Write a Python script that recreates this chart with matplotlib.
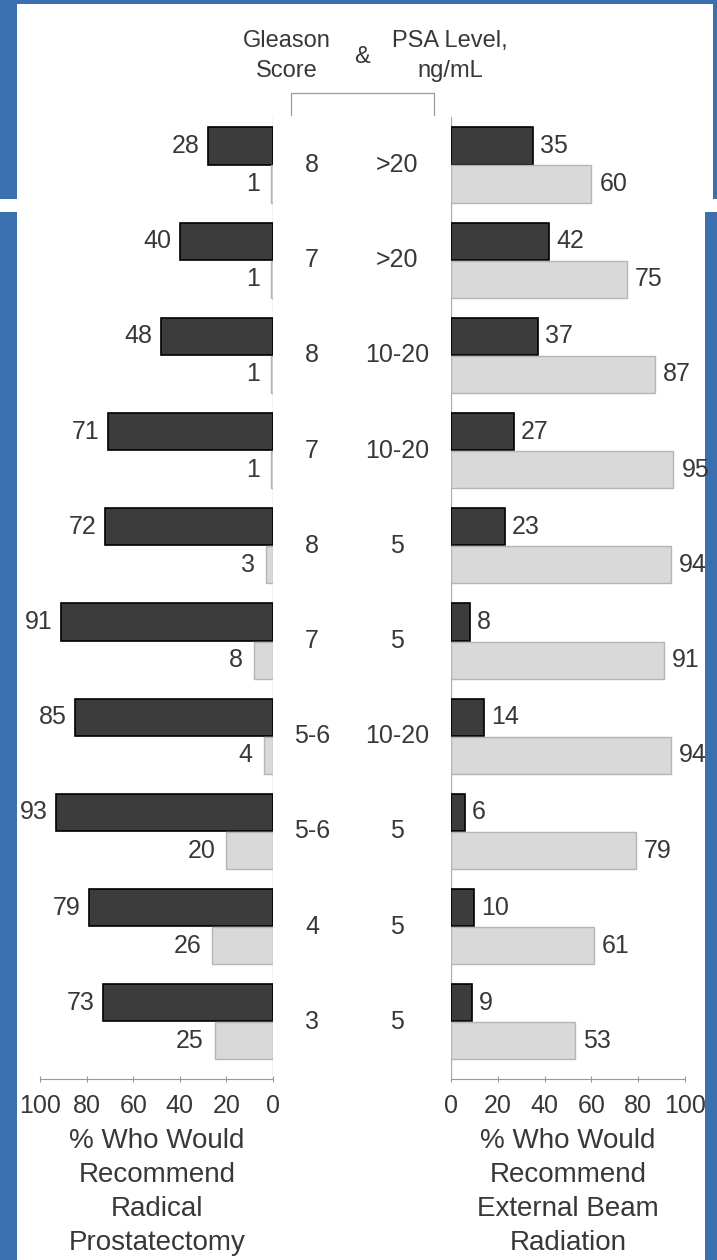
import matplotlib
matplotlib.use("Agg")
import matplotlib.pyplot as plt
from matplotlib.patches import Rectangle
from matplotlib.lines import Line2D
from matplotlib.transforms import blended_transform_factory
import numpy as np

plt.rcParams['font.family'] = ['Liberation Sans', 'DejaVu Sans']

gleason = ["8", "7", "8", "7", "8", "7", "5-6", "5-6", "4", "3"]
psa = [">20", ">20", "10-20", "10-20", "5", "5", "10-20", "5", "5", "5"]
rp_dark = [28, 40, 48, 71, 72, 91, 85, 93, 79, 73]
rp_light = [1, 1, 1, 1, 3, 8, 4, 20, 26, 25]
ebr_dark = [35, 42, 37, 27, 23, 8, 14, 6, 10, 9]
ebr_light = [60, 75, 87, 95, 94, 91, 94, 79, 61, 53]
ticks = [0, 20, 40, 60, 80, 100]

W, H = 717, 1260
fig = plt.figure(figsize=(W / 100, H / 100), dpi=100)
BLUE = "#3a70b0"
fig.patch.set_facecolor(BLUE)

def px_rect(x0, y0, x1, y1, color="white"):
    fig.add_artist(Rectangle((x0 / W, 1 - y1 / H), (x1 - x0) / W, (y1 - y0) / H,
                             transform=fig.transFigure, facecolor=color,
                             edgecolor="none", zorder=0))

px_rect(17, 4, 713, 200)
px_rect(0, 199, 717, 212)
px_rect(17, 211, 705, 1260)

TXT = "#383838"
DARK = "#3c3c3c"
LIGHT = "#d9d9d9"
AX_Y0, AX_Y1 = 117.4, 1079
ylim = (9.6, -0.5)

def make_ax(x0, x1):
    ax = fig.add_axes([x0 / W, 1 - AX_Y1 / H, (x1 - x0) / W, (AX_Y1 - AX_Y0) / H])
    ax.set_facecolor("none")
    ax.set_ylim(*ylim)
    ax.set_yticks([])
    ax.set_xticks(ticks)
    ax.tick_params(axis='x', direction='inout', length=5, width=0.8, color="#999999",
                   labelsize=18, labelcolor=TXT, pad=8)
    for s in ax.spines.values():
        s.set_visible(False)
    ax.spines['bottom'].set_visible(True)
    ax.spines['bottom'].set_color("#999999")
    ax.spines['bottom'].set_linewidth(0.8)
    return ax

n = len(gleason)
y = np.arange(n)
h = 0.39
off = 0.2

axL = make_ax(40, 273)
axL.set_xlim(100, 0)
axL.barh(y - off, rp_dark, height=h, color=DARK, edgecolor="black", linewidth=1.2, zorder=3)
axL.barh(y + off, rp_light, height=h, color=LIGHT, edgecolor="#b5b5b5", linewidth=1.0, zorder=3)
axL.axvline(0, color="#aaaaaa", lw=0.9, zorder=2)
for i in range(n):
    axL.annotate(str(rp_dark[i]), (rp_dark[i], y[i] - off), xytext=(-6, 0),
                 textcoords="offset points", ha="right", va="center", fontsize=18, color=TXT)
    axL.annotate(str(rp_light[i]), (rp_light[i], y[i] + off), xytext=(-8, 0),
                 textcoords="offset points", ha="right", va="center", fontsize=18, color=TXT)

axR = make_ax(451, 685)
axR.set_xlim(0, 100)
axR.barh(y - off, ebr_dark, height=h, color=DARK, edgecolor="black", linewidth=1.2, zorder=3)
axR.barh(y + off, ebr_light, height=h, color=LIGHT, edgecolor="#b5b5b5", linewidth=1.0, zorder=3)
axR.axvline(0, color="#aaaaaa", lw=0.9, zorder=2)
for i in range(n):
    axR.annotate(str(ebr_dark[i]), (ebr_dark[i], y[i] - off), xytext=(5, 0),
                 textcoords="offset points", ha="left", va="center", fontsize=18, color=TXT)
    axR.annotate(str(ebr_light[i]), (ebr_light[i], y[i] + off), xytext=(6, 0),
                 textcoords="offset points", ha="left", va="center", fontsize=18, color=TXT)

tr = blended_transform_factory(fig.transFigure, axL.transData)
for i in range(n):
    fig.text(312 / W, y[i], gleason[i], transform=tr, ha="center", va="center",
             fontsize=18, color=TXT)
    fig.text(397 / W, y[i], psa[i], transform=tr, ha="center", va="center",
             fontsize=18, color=TXT)

# header
fig.text(287 / W, 1 - 56 / H, "Gleason\nScore", ha="center", va="center",
         fontsize=17, color=TXT, linespacing=1.44)
fig.text(362 / W, 1 - 57 / H, "&", ha="center", va="center", fontsize=17, color=TXT)
fig.text(450 / W, 1 - 56 / H, "PSA Level,\nng/mL", ha="center", va="center",
         fontsize=17, color=TXT, linespacing=1.44)
bx = [291 / W, 291 / W, 434 / W, 434 / W]
by = [1 - 115 / H, 1 - 93 / H, 1 - 93 / H, 1 - 115 / H]
fig.add_artist(Line2D(bx, by, transform=fig.transFigure, color="#999999", lw=0.9))

# bottom titles
fig.text(157 / W, 1 - 1128 / H, "% Who Would\nRecommend\nRadical\nProstatectomy",
         ha="center", va="top", fontsize=20, color=TXT, linespacing=1.40)
fig.text(568 / W, 1 - 1128 / H, "% Who Would\nRecommend\nExternal Beam\nRadiation",
         ha="center", va="top", fontsize=20, color=TXT, linespacing=1.40)

fig.savefig("out.png", dpi=100, facecolor=fig.get_facecolor())
